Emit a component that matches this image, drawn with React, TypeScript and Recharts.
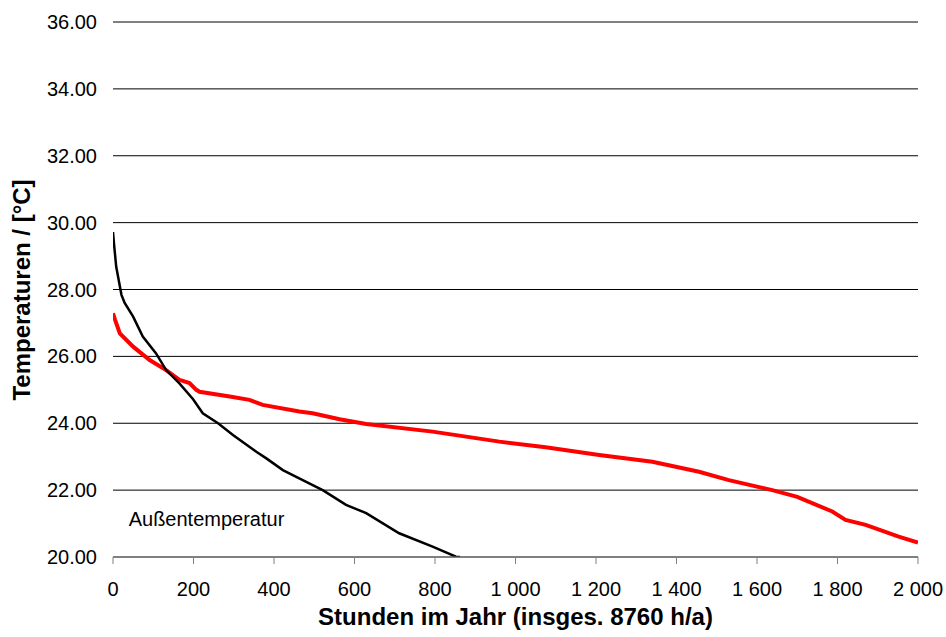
import React from 'react';
import { LineChart, Line, XAxis, YAxis, CartesianGrid, ReferenceDot, Customized } from 'recharts';

const outdoorHours = [0, 3, 8, 21, 29, 50, 74, 107, 132, 165, 199, 223, 261, 298, 356, 381, 422, 480, 521, 579, 629, 711, 794, 852, 862];
const outdoorTemp = [29.72, 29.3, 28.68, 27.84, 27.6, 27.19, 26.59, 26.09, 25.59, 25.19, 24.72, 24.3, 24.0, 23.65, 23.15, 22.95, 22.6, 22.25, 22.0, 21.56, 21.31, 20.71, 20.31, 20.01, 20.0];

const roomHours = [0, 5, 17, 50, 91, 132, 165, 190, 207, 215, 290, 339, 372, 463, 496, 563, 629, 794, 960, 1075, 1208, 1340, 1456, 1530, 1638, 1700, 1787, 1820, 1870, 1952, 2000];
const roomTemp = [27.29, 27.1, 26.69, 26.29, 25.89, 25.59, 25.3, 25.2, 25.0, 24.94, 24.8, 24.7, 24.55, 24.35, 24.3, 24.12, 23.98, 23.75, 23.45, 23.28, 23.05, 22.85, 22.55, 22.3, 22.0, 21.8, 21.36, 21.11, 20.96, 20.61, 20.43];

const xTicks = [0, 200, 400, 600, 800, 1000, 1200, 1400, 1600, 1800, 2000];
const yTicks = [20, 22, 24, 26, 28, 30, 32, 34, 36];

const xTitle = 'Stunden im Jahr (insges. 8760 h/a)';
const yTitle = 'Temperaturen / [°C]';
const seriesLabel = 'Außentemperatur';

const outdoorData = outdoorHours.map((h, i) => ({ h, t: outdoorTemp[i] }));
const roomData = roomHours.map((h, i) => ({ h, t: roomTemp[i] }));

const fmtX = (v: number) => {
  const s = String(v);
  return s.length > 3 ? s.slice(0, s.length - 3) + '\u00a0' + s.slice(s.length - 3) : s;
};

const FONT = 'Arial, "Liberation Sans", sans-serif';

const Titles = () => (
  <g>
    <text x={515.5} y={625} textAnchor="middle" fontFamily={FONT} fontSize={24} fontWeight="bold" fill="#000">
      {xTitle}
    </text>
    <text x={30} y={290} transform="rotate(-90 30 290)" textAnchor="middle" fontFamily={FONT} fontSize={24} fontWeight="bold" fill="#000">
      {yTitle}
    </text>
  </g>
);

export default function App() {
  return (
    <div style={{ position: 'absolute', left: 0, top: 0, background: '#fff' }}>
      <LineChart width={946} height={637} margin={{ top: 22, right: 28, bottom: 0, left: 0 }}>
        <CartesianGrid vertical={false} stroke="#000" strokeWidth={1} />
        <XAxis
          dataKey="h"
          type="number"
          domain={[0, 2000]}
          ticks={xTicks}
          tickFormatter={fmtX}
          height={80}
          stroke="#808080"
          tickSize={7}
          tickMargin={18}
          tick={{ fill: '#000', fontSize: 20, fontFamily: FONT }}
          allowDataOverflow
        />
        <YAxis
          type="number"
          domain={[20, 36]}
          ticks={yTicks}
          tickFormatter={(v: number) => v.toFixed(2)}
          width={113}
          axisLine={false}
          tickLine={false}
          tickSize={0}
          tickMargin={16}
          tick={{ fill: '#000', fontSize: 20, fontFamily: FONT }}
          allowDataOverflow
        />
        <Line data={roomData} dataKey="t" stroke="#ff0000" strokeWidth={4} dot={false} isAnimationActive={false} />
        <Line data={outdoorData} dataKey="t" stroke="#000" strokeWidth={2.5} dot={false} isAnimationActive={false} />
        <ReferenceDot
          x={39}
          y={21.15}
          r={0}
          fill="none"
          stroke="none"
          label={{ value: seriesLabel, position: 'right', offset: 0, fill: '#000', fontSize: 20, fontFamily: FONT }}
        />
        <Customized component={Titles} />
      </LineChart>
    </div>
  );
}
